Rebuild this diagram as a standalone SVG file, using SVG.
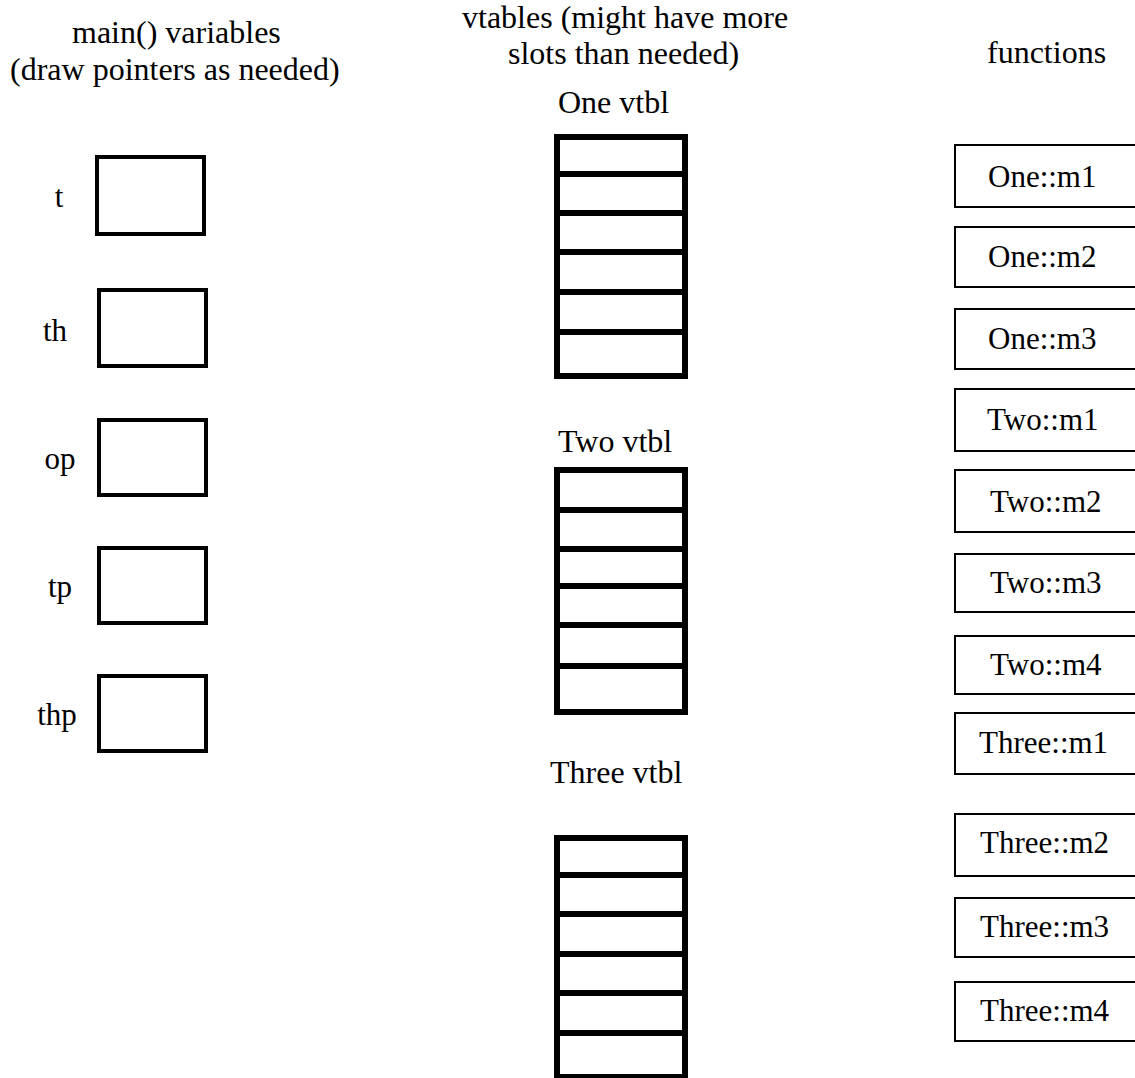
<svg xmlns="http://www.w3.org/2000/svg" width="1135" height="1078" viewBox="0 0 1135 1078">
<style>
text{font-family:"Liberation Serif","Times New Roman",serif;fill:#000}
.h{font-size:32px}
.lbl{font-size:31px}
.fn{font-size:31px}
.var{fill:#fff;stroke:#000;stroke-width:4}
.vt{fill:#fff;stroke:#000;stroke-width:6}
.div{stroke:#000;stroke-width:6}
.fbox{fill:#fff;stroke:#000;stroke-width:2}
</style>
<rect width="1135" height="1078" fill="#fff"/>
<g id="headings">
<text class="h" x="72" y="43">main() variables</text>
<text class="h" x="10" y="80">(draw pointers as needed)</text>
<text class="h" x="462" y="28">vtables (might have more</text>
<text class="h" x="508" y="64">slots than needed)</text>
<text class="h" x="987" y="63">functions</text>
</g>
<g id="var-t"><text class="lbl" x="59" y="207" text-anchor="middle">t</text><rect class="var" x="97" y="157" width="107" height="77"/></g>
<g id="var-th"><text class="lbl" x="55" y="341" text-anchor="middle">th</text><rect class="var" x="99" y="290" width="107" height="76"/></g>
<g id="var-op"><text class="lbl" x="60" y="469" text-anchor="middle">op</text><rect class="var" x="99" y="420" width="107" height="75"/></g>
<g id="var-tp"><text class="lbl" x="60" y="597" text-anchor="middle">tp</text><rect class="var" x="99" y="548" width="107" height="75"/></g>
<g id="var-thp"><text class="lbl" x="57" y="725" text-anchor="middle">thp</text><rect class="var" x="99" y="676" width="107" height="75"/></g>
<g id="one-vtbl">
<text class="h" x="558" y="113">One vtbl</text>
<rect class="vt" x="557" y="137" width="128" height="239"/>
<path class="div" d="M557 174H685M557 213H685M557 252H685M557 292H685M557 332H685"/>
</g>
<g id="two-vtbl">
<text class="h" x="558" y="452">Two vtbl</text>
<rect class="vt" x="557" y="470" width="128" height="242"/>
<path class="div" d="M557 510H685M557 549H685M557 586H685M557 625H685M557 666H685"/>
</g>
<g id="three-vtbl">
<text class="h" x="550" y="783">Three vtbl</text>
<rect class="vt" x="557" y="838" width="128" height="239"/>
<path class="div" d="M557 875H685M557 914H685M557 954H685M557 993H685M557 1033H685"/>
</g>
<g id="f-one-m1"><rect class="fbox" x="955" y="145" width="200" height="62"/><text class="fn" x="988" y="187">One::m1</text></g>
<g id="f-one-m2"><rect class="fbox" x="955" y="227" width="200" height="60"/><text class="fn" x="988" y="267">One::m2</text></g>
<g id="f-one-m3"><rect class="fbox" x="955" y="309" width="200" height="60"/><text class="fn" x="988" y="349">One::m3</text></g>
<g id="f-two-m1"><rect class="fbox" x="955" y="389" width="200" height="62"/><text class="fn" x="987" y="430">Two::m1</text></g>
<g id="f-two-m2"><rect class="fbox" x="955" y="470" width="200" height="62"/><text class="fn" x="990" y="512">Two::m2</text></g>
<g id="f-two-m3"><rect class="fbox" x="955" y="554" width="200" height="58"/><text class="fn" x="990" y="593">Two::m3</text></g>
<g id="f-two-m4"><rect class="fbox" x="955" y="636" width="200" height="58"/><text class="fn" x="990" y="675">Two::m4</text></g>
<g id="f-three-m1"><rect class="fbox" x="955" y="713" width="200" height="61"/><text class="fn" x="979" y="753">Three::m1</text></g>
<g id="f-three-m2"><rect class="fbox" x="955" y="814" width="200" height="62"/><text class="fn" x="980" y="853">Three::m2</text></g>
<g id="f-three-m3"><rect class="fbox" x="955" y="898" width="200" height="59"/><text class="fn" x="980" y="937">Three::m3</text></g>
<g id="f-three-m4"><rect class="fbox" x="955" y="982" width="200" height="59"/><text class="fn" x="980" y="1021">Three::m4</text></g>
<g id="connectors"/>
</svg>
